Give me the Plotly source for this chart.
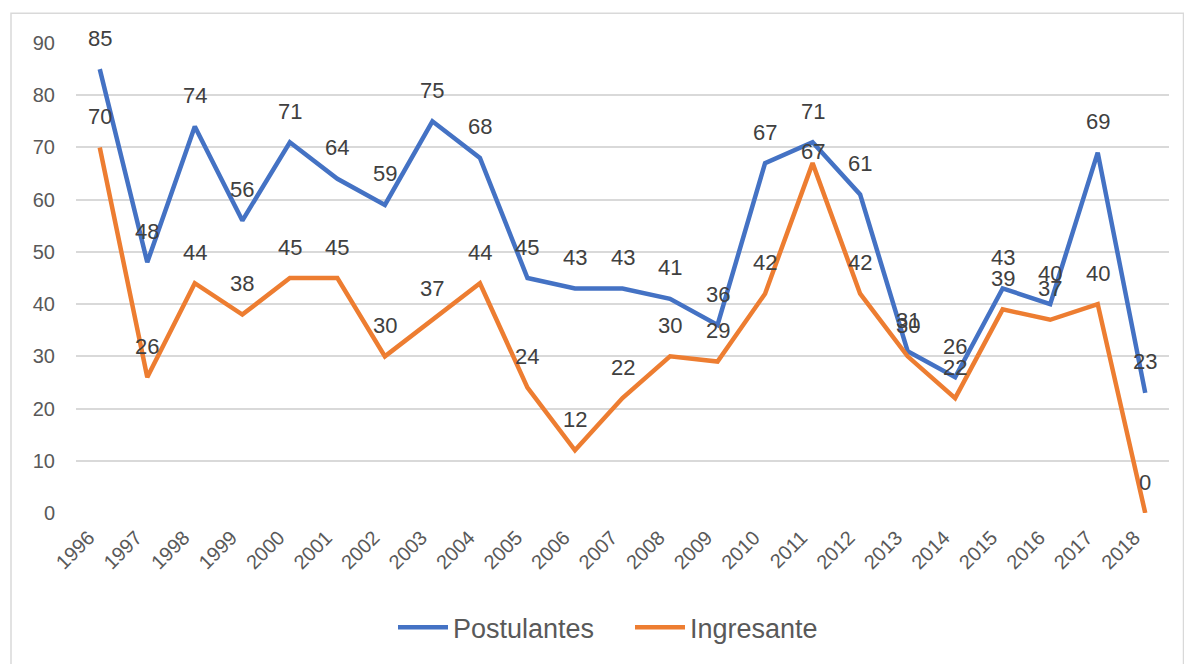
import plotly.graph_objects as go

years = [str(y) for y in range(1996, 2019)]
postulantes = [85, 48, 74, 56, 71, 64, 59, 75, 68, 45, 43, 43, 41, 36, 67, 71, 61, 31, 26, 43, 40, 69, 23]
ingresante = [70, 26, 44, 38, 45, 45, 30, 37, 44, 24, 12, 22, 30, 29, 42, 67, 42, 30, 22, 39, 37, 40, 0]
series_names = ["Postulantes", "Ingresante"]
colors = ["#4472C4", "#ED7D31"]
y_ticks = list(range(0, 100, 10))

# label vertical offsets (px above point); one exception as in the source chart
default_label_shift = 31
label_shift_override = {("Ingresante", "2011"): 12}

FONT = "Liberation Sans, Arial"

fig = go.Figure()
for name, vals, col in zip(series_names, [postulantes, ingresante], colors):
    fig.add_trace(go.Scatter(
        x=years, y=vals, name=name, mode="lines",
        line=dict(color=col, width=4.5),
    ))
    for i, v in enumerate(vals):
        fig.add_annotation(
            x=i, y=v, xref="x", yref="y", text=str(v), showarrow=False,
            yshift=label_shift_override.get((name, years[i]), default_label_shift),
            font=dict(family=FONT, size=22, color="#404040"),
        )

# outer chart border
L, R, T, B = 76, 1169, 43, 518
def px_x(p):
    return (p - L) / (R - L)
def px_y(p):
    return (B - p) / (B - T)
fig.add_shape(type="rect", xref="paper", yref="paper",
              x0=px_x(11), x1=px_x(1183.5), y0=px_y(700), y1=px_y(13),
              line=dict(color="#D9D9D9", width=1.5), fillcolor="rgba(0,0,0,0)", layer="below")

fig.update_layout(
    width=1184, height=664, autosize=False,
    margin=dict(l=L, r=1184 - R, t=T, b=664 - B, pad=0),
    paper_bgcolor="white", plot_bgcolor="white",
    showlegend=True,
    legend=dict(orientation="h", x=px_x(630), xanchor="center", y=px_y(634), yanchor="middle",
                font=dict(family=FONT, size=27, color="#595959"),
                entrywidth=172, entrywidthmode="pixels", itemwidth=50),
    xaxis=dict(type="category", range=[-0.5, len(years) - 0.5], showgrid=False,
               tickangle=-45, ticks="", showline=False, zeroline=False, automargin=False,
               tickfont=dict(family=FONT, size=20, color="#595959"),
               ticklabelstandoff=8, ticklabelshift=-11),
    yaxis=dict(range=[0, 90], tickvals=y_ticks, showgrid=True, gridcolor="#D9D9D9", gridwidth=1.5,
               zeroline=False, showline=False, ticks="", automargin=False,
               tickfont=dict(family=FONT, size=20, color="#595959"),
               ticklabelstandoff=20),
)

fig.write_html("out.html", config={"displayModeBar": False},
               post_script="document.body.style.margin='0';document.body.style.overflow='hidden';")
